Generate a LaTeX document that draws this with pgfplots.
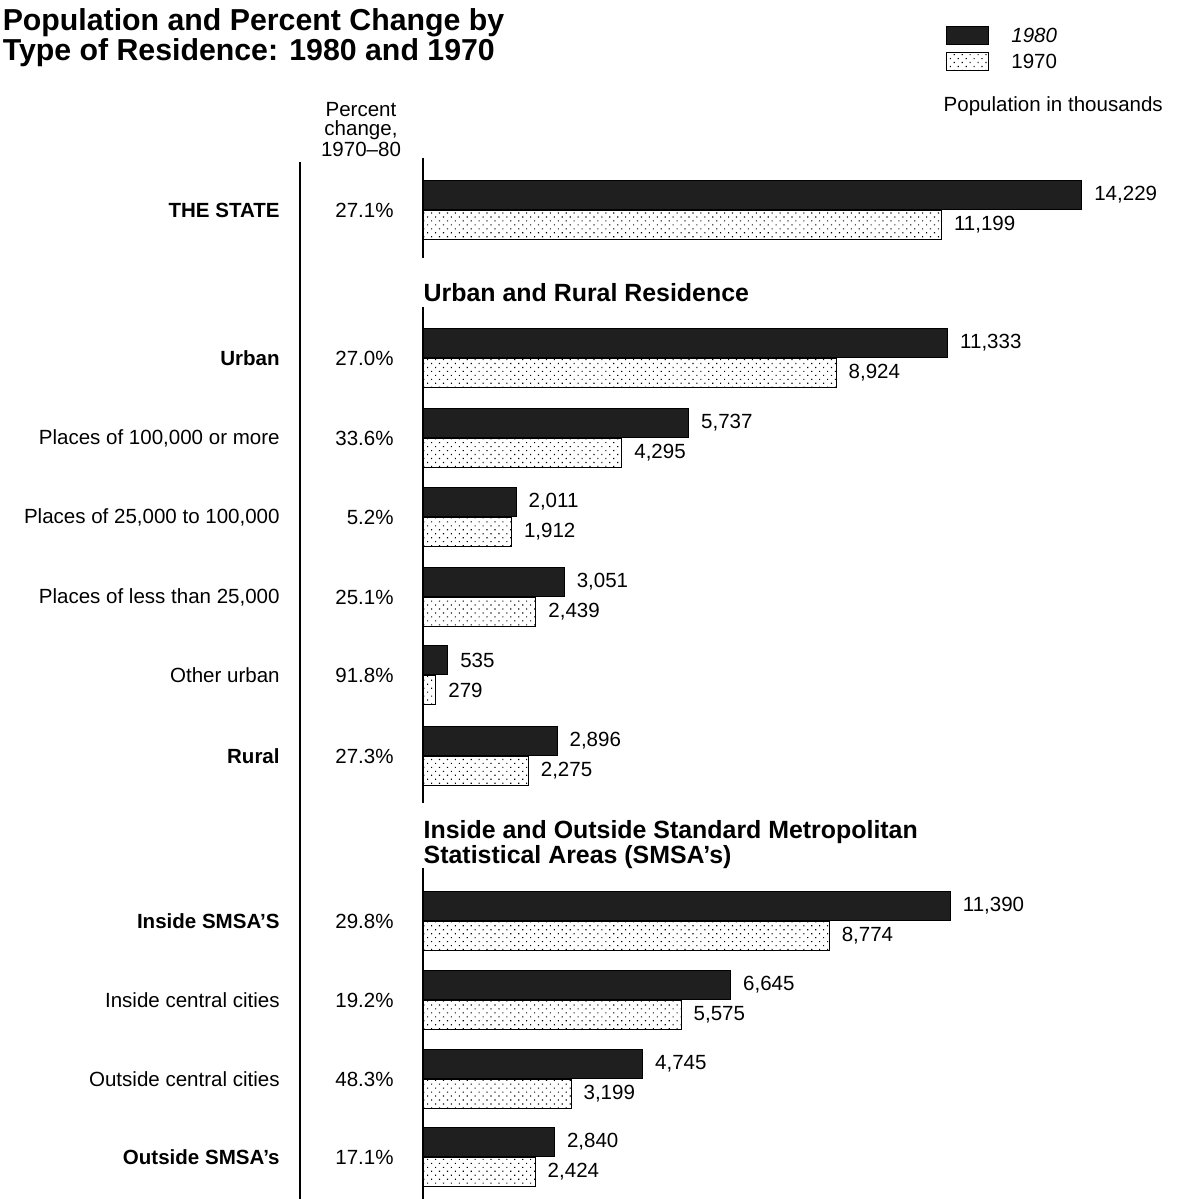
\documentclass[border=0pt]{standalone}
\usepackage{fontspec}
\setmainfont{Liberation Sans}
\usepackage{pgfplots}
\pgfplotsset{compat=1.18}
\usetikzlibrary{patterns.meta}

\newcommand{\bodyfont}{\fontsize{10.3}{12}\selectfont}
\newcommand{\headfont}{\bfseries\fontsize{12.5}{14}\selectfont}

\pgfplotsset{
  legbox/.style={legend image code/.code={\draw[##1] (0bp,-4.5bp) rectangle (21bp,4.5bp);}},
}

\begin{document}
\begin{tikzpicture}
\useasboundingbox (0,0) rectangle (592bp,-599.5bp);
\begin{axis}[
  at={(0,0)}, anchor=north west,
  scale only axis, width=592bp, height=599.5bp,
  xmin=-9136, xmax=16436,
  ymin=0, ymax=1199, y dir=reverse,
  xbar, bar width=29.5, bar shift=0pt,
  clip=false,
  axis line style={draw=none},
  major tick length=0pt, tick style={draw=none},
  xtick=\empty,
  ytick={210,358,438,517,597,675,756,921,1000,1079,1157},
  yticklabels={\textbf{THE STATE}, \textbf{Urban}, {Places of 100,000 or more},
    {Places of 25,000 to 100,000}, {Places of less than 25,000}, Other urban,
    \textbf{Rural}, \textbf{Inside SMSA'S}, Inside central cities,
    Outside central cities, \textbf{Outside SMSA's}},
  yticklabel style={anchor=east, inner sep=0pt, xshift=140bp, font=\bodyfont},
  extra y ticks={210,358,438,517,597,675,756,921,1000,1079,1157},
  extra y tick labels={27.1\%, 27.0\%, 33.6\%, 5.2\%, 25.1\%, 91.8\%, 27.3\%,
    29.8\%, 19.2\%, 48.3\%, 17.1\%},
  extra y tick style={grid=none, yticklabel style={xshift=57bp}},
  point meta=x,
  nodes near coords,
  nodes near coords style={anchor=west, inner sep=0pt, xshift=6bp, font=\bodyfont},
  /pgf/number format/fixed,
  /pgf/number format/precision=0,
  /pgf/number format/1000 sep={,},
  /pgf/number format/assume math mode=true,
  legend style={at={(axis description cs:0.799,0.979)}, anchor=north west,
    draw=none, fill=none, inner sep=0pt, row sep=3.5bp, column sep=11bp,
    nodes={inner sep=0pt, text depth=0pt, font=\bodyfont}},
  legend cell align=left,
]
% 1980
\addplot[draw=black, line width=0.5bp, fill=black!88, legbox] coordinates {
  (14229,195) (11333,343) (5737,423) (2011,502) (3051,582) (535,660)
  (2896,741) (11390,906) (6645,985) (4745,1064) (2840,1142)};
% 1970
\addplot[draw=black, line width=0.5bp,
  pattern={Dots[distance=2.8bp, angle=45, radius=0.4bp]}, pattern color=black,
  legbox] coordinates {
  (11199,225) (8924,373) (4295,453) (1912,532) (2439,612) (279,690)
  (2275,771) (8774,936) (5575,1015) (3199,1094) (2424,1172)};
\legend{\textit{1980}, 1970}
\end{axis}

\begin{scope}[x=0.5bp, y=-0.5bp, line width=0.75bp]
  \draw (300,162) -- (300,1199);
  \draw (423,158) -- (423,258) (423,307) -- (423,803) (423,868) -- (423,1199);
  \begin{scope}[every node/.style={inner sep=0pt, anchor=base west}]
    \node[font=\bfseries\fontsize{15.2}{16}\selectfont] at (2,30) {Population and Percent Change by};
    \node[font=\bfseries\fontsize{15.2}{16}\selectfont] at (2,60) {Type of Residence: 1980 and 1970};
    \node[font=\headfont] at (423,302) {Urban and Rural Residence};
    \node[font=\headfont] at (423,839) {Inside and Outside Standard Metropolitan};
    \node[font=\headfont] at (423,864) {Statistical Areas (SMSA's)};
    \node[font=\bodyfont] at (943,112) {Population in thousands};
  \end{scope}
  \begin{scope}[every node/.style={inner sep=0pt, anchor=base, font=\bodyfont}]
    \node at (361,117) {Percent};
    \node at (361,136) {change,};
    \node at (361,157) {1970--80};
  \end{scope}
\end{scope}
\end{tikzpicture}
\end{document}
